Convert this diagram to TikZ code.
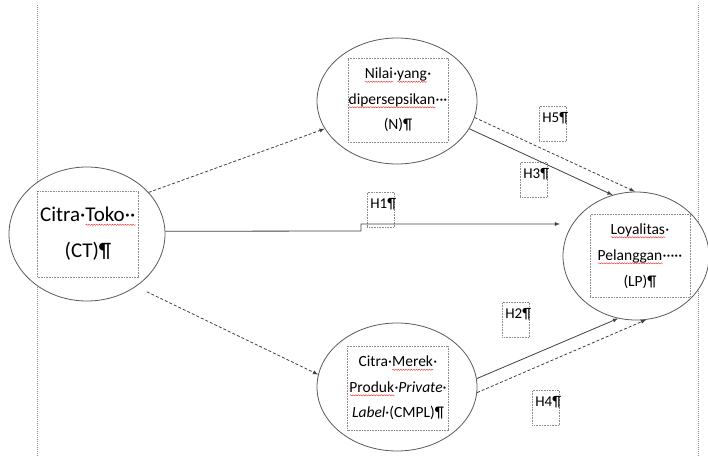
\documentclass[tikz,border=0pt]{standalone}
\usepackage{fontspec}
\setmainfont{Carlito}
\usetikzlibrary{shapes.geometric,decorations.pathmorphing}
\definecolor{linegray}{HTML}{404040}
\definecolor{edgegray}{HTML}{5A5A5A}
\definecolor{boxgray}{HTML}{8C8C8C}
\definecolor{spellred}{HTML}{E83A3A}
\tikzstyle{pageline} = [draw=boxgray, dash pattern=on 1pt off 1pt, line width=.7pt]
\tikzstyle{construct} = [ellipse, draw=edgegray, fill=white, line width=.8pt, inner sep=0pt]
\tikzstyle{textbox} = [rectangle, draw=boxgray, dash pattern=on .8pt off .8pt, line width=.6pt, align=center, inner sep=0pt]
\tikzstyle{hypbox} = [rectangle, draw=boxgray, dash pattern=on .8pt off .8pt, line width=.6pt, align=left, anchor=north west, inner sep=3pt, text width=21pt, text height=13pt, text depth=16pt, font=\fontsize{15}{18}\selectfont]
\tikzstyle{link} = [draw=linegray, line width=.8pt, -latex]
\tikzstyle{dlink} = [link, dash pattern=on 3pt off 2pt]
\newlength{\wavelen}
\newcommand{\wavy}[1]{\mbox{\settowidth{\wavelen}{#1}\rlap{#1}\tikz[baseline=0pt]\draw[spellred, line width=.45pt, solid, decorate, decoration={snake, amplitude=.6pt, segment length=2.6pt}] (0pt,-3pt) -- (\wavelen,-3pt);}}

\begin{document}
\begin{tikzpicture}[x=1pt, y=-1pt]
	\useasboundingbox (0,0) rectangle (708,457);
	\draw[pageline] (37,5) -- (37,457);
	\draw[pageline] (698,5) -- (698,457);
	% constructs
	\node[construct, minimum width=156pt, minimum height=134pt] (ct) at (87,234) {};
	\node[construct, minimum width=160pt, minimum height=126pt] (n) at (397,101) {};
	\node[construct, minimum width=160pt, minimum height=128pt] (cmpl) at (397,387) {};
	\node[construct, minimum width=146pt, minimum height=128pt] (lp) at (636,256) {};
	\node[textbox, text width=101pt, minimum height=86pt, font=\fontsize{21}{36}\selectfont] (ctbox) at (88,234)
		{Citra·\wavy{Toko··}\\(CT)¶};
	\node[textbox, text width=100pt, minimum height=84pt, font=\fontsize{15.5}{25.5}\selectfont] (nbox) at (398,100)
		{\wavy{Nilai}·\wavy{yang}·\\\wavy{dipersepsikan}···\\(N)¶};
	\node[textbox, text width=101pt, minimum height=84pt, font=\fontsize{15.5}{25.5}\selectfont] (cmplbox) at (398,388)
		{Citra·\wavy{Merek}·\\\wavy{Produk}·\textit{Private}·\\\textit{Label}·(CMPL)¶};
	\node[textbox, text width=100pt, minimum height=83pt, font=\fontsize{15.5}{26}\selectfont] (lpbox) at (640,256)
		{\wavy{Loyalitas}·\\\wavy{Pelanggan}·····\\(LP)¶};
	% hypotheses
	\node[hypbox] (h1) at (367,192) {H1¶};
	\node[hypbox] (h5) at (539,106) {H5¶};
	\node[hypbox] (h3) at (520,162) {H3¶};
	\node[hypbox] (h2) at (502,302) {H2¶};
	\node[hypbox] (h4) at (532,390) {H4¶};
	\coordinate (h1step) at (361,231);
	\coordinate (h1end) at (560,224);
	% paths
	\draw[dlink] (ct.34) -- (n.201);
	\draw[dlink, shorten <=12pt] (ct.-47) -- (cmpl.171);
	\draw[link] (ct.2) -- (h1step) |- (h1end);
	\draw[link] (n.-21) -- (lp.111);
	\draw[dlink] (n.-12) -- (lp.91);
	\draw[link] (cmpl.6) -- (lp.-106);
	\draw[dlink] (cmpl.-4) -- (lp.-81);
\end{tikzpicture}
\end{document}
